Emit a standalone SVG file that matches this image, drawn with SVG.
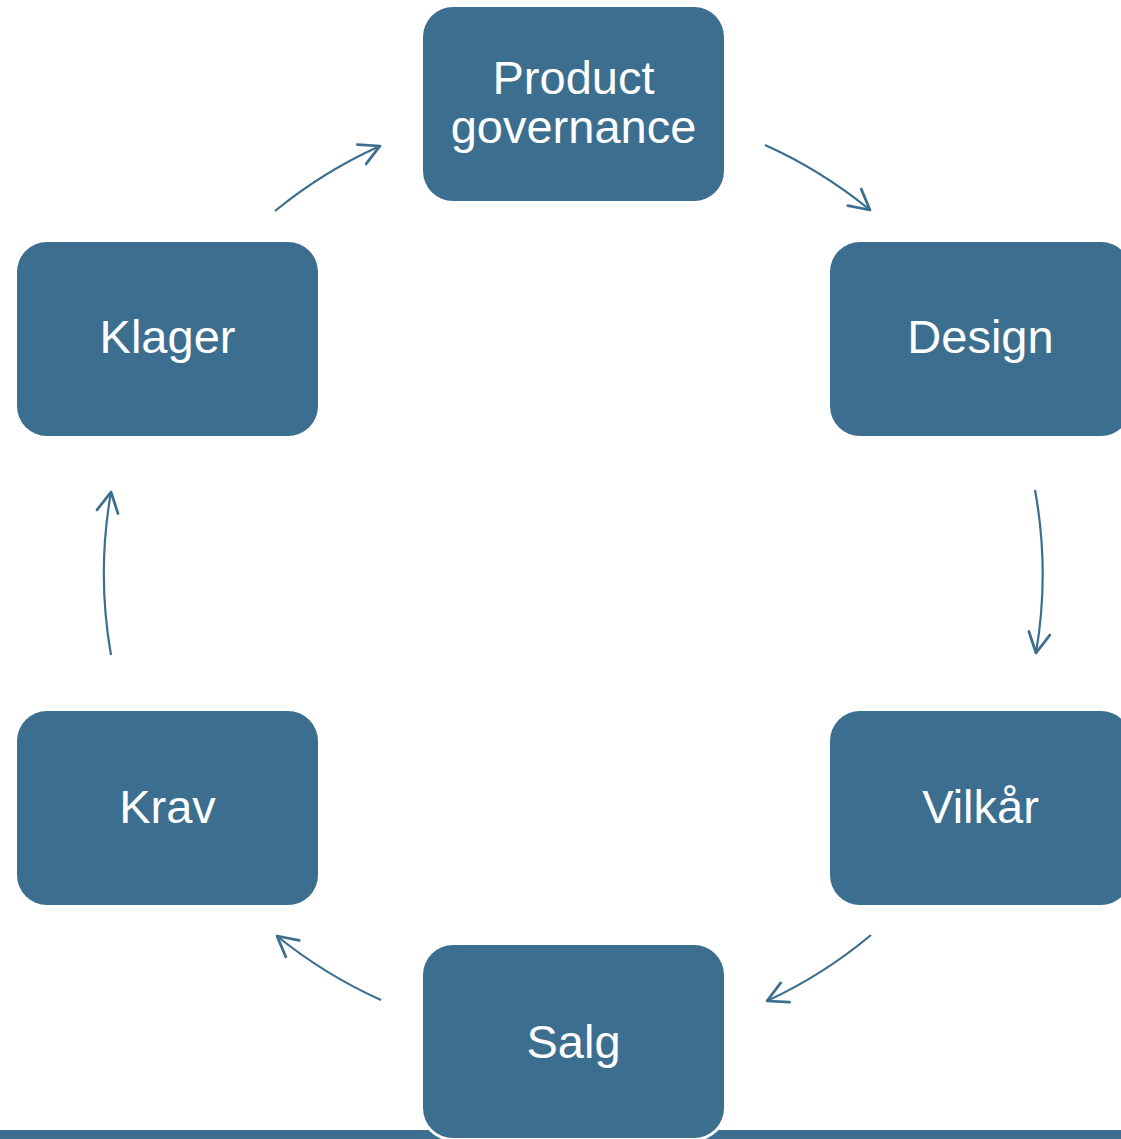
<svg xmlns="http://www.w3.org/2000/svg" width="1121" height="1139" viewBox="0 0 1121 1139">
<style>
.box{fill:#3C6E8F;}
.lbl{fill:#FFFFFF;font-family:"Liberation Sans",Arial,sans-serif;font-size:47px;text-anchor:middle;}
.arc{fill:none;stroke:#3C6E8F;stroke-width:2.2;marker-end:url(#head);}
</style>
<defs>
<marker id="head" markerUnits="userSpaceOnUse" markerWidth="30" markerHeight="30" viewBox="-20 -12 24 24" refX="0" refY="0" orient="auto">
<path d="M-16,-8.5 L0,0 L-16,8.5" fill="none" stroke="#3C6E8F" stroke-width="2.2" stroke-linecap="round" stroke-linejoin="round"/>
</marker>
</defs>
<rect x="0" y="0" width="1121" height="1139" fill="#FFFFFF"/>
<rect id="bottom-bar" x="0" y="1130" width="1121" height="9" fill="#3C6E8F"/>
<g id="connectors">
<path class="arc" d="M765,145 A469,469 0 0 1 870,210"/>
<path class="arc" d="M1035,490 A469,469 0 0 1 1036,653"/>
<path class="arc" d="M871,935 A469,469 0 0 1 767,1001"/>
<path class="arc" d="M381,1000 A469,469 0 0 1 277,936"/>
<path class="arc" d="M111,655 A469,469 0 0 1 111,492"/>
<path class="arc" d="M275,211 A469,469 0 0 1 380,146"/>
</g>
<g id="node-product-governance">
<rect class="box" x="423" y="7" width="301" height="194" rx="30"/>
<text class="lbl" x="573.5" y="94">Product</text>
<text class="lbl" x="573.5" y="143">governance</text>
</g>
<g id="node-design">
<rect class="box" x="830" y="242" width="301" height="194" rx="30"/>
<text class="lbl" x="980.5" y="353">Design</text>
</g>
<g id="node-vilkar">
<rect class="box" x="830" y="711" width="301" height="194" rx="30"/>
<text class="lbl" x="980.5" y="823">Vilkår</text>
</g>
<g id="node-salg">
<rect x="420" y="942" width="307" height="199" rx="33" fill="#FFFFFF"/>
<rect class="box" x="423" y="945" width="301" height="193" rx="30"/>
<text class="lbl" x="573.5" y="1058">Salg</text>
</g>
<g id="node-krav">
<rect class="box" x="17" y="711" width="301" height="194" rx="30"/>
<text class="lbl" x="167.5" y="823">Krav</text>
</g>
<g id="node-klager">
<rect class="box" x="17" y="242" width="301" height="194" rx="30"/>
<text class="lbl" x="167.5" y="353">Klager</text>
</g>
</svg>
